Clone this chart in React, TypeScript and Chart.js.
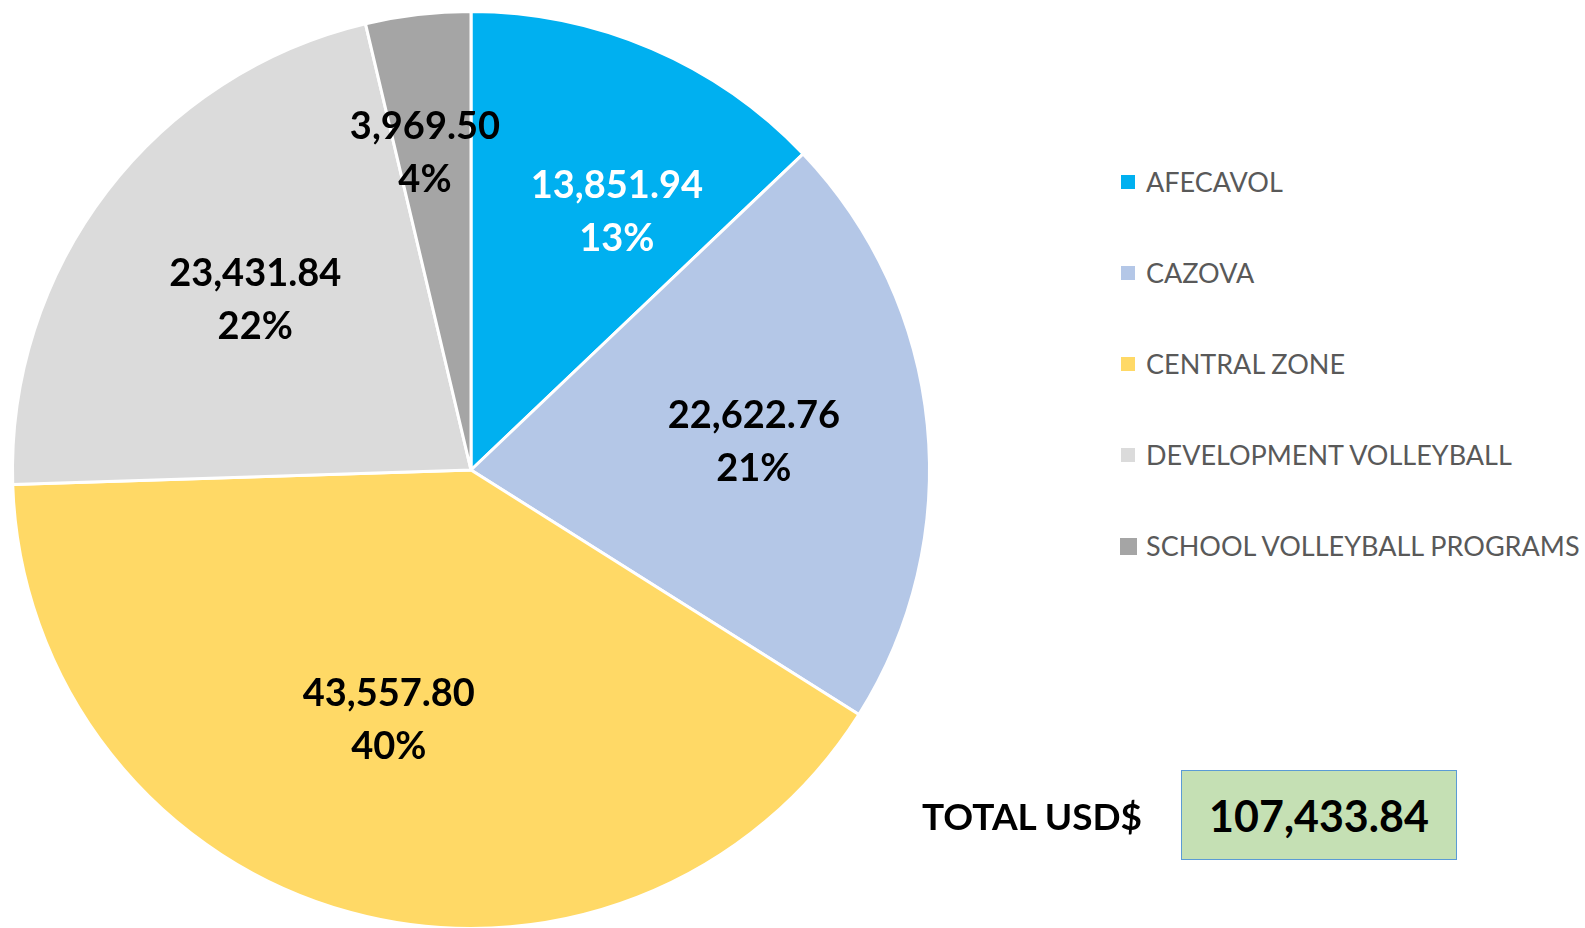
import React, { useEffect, useRef } from "react";
import { Chart, registerables } from "chart.js";

Chart.register(...registerables);

const CATEGORIES = ["AFECAVOL", "CAZOVA", "CENTRAL ZONE", "DEVELOPMENT VOLLEYBALL", "SCHOOL VOLLEYBALL PROGRAMS"];
const VALUES = [13851.94, 22622.76, 43557.8, 23431.84, 3969.5];
const PERCENT_LABELS = ["13%", "21%", "40%", "22%", "4%"];
const COLORS = ["#00B0F0", "#B4C7E7", "#FFD966", "#DBDBDB", "#A5A5A5"];
const LABEL_COLORS = ["#FFFFFF", "#000000", "#000000", "#000000", "#000000"];
const TOTAL_TEXT = "TOTAL USD$";
const TOTAL_VALUE = "107,433.84";

// label placement style (radius fraction, angle shift in degrees)
const LABEL_RADIUS = [0.646, 0.62, 0.574, 0.6, 0.7];
const LABEL_ANGLE_SHIFT = [6.3, 0, 3, 0.9, -1.6];

const FONT = "Lato, 'Open Sans', sans-serif";

const fmt = (v: number) =>
  v.toLocaleString("en-US", { minimumFractionDigits: 2, maximumFractionDigits: 2 });

const labelPlugin = {
  id: "sliceLabels",
  afterDatasetsDraw(chart: any) {
    const ctx = chart.ctx;
    const meta = chart.getDatasetMeta(0);
    ctx.save();
    ctx.font = `bold 38px ${FONT}`;
    ctx.textAlign = "center";
    ctx.textBaseline = "middle";
    meta.data.forEach((arc: any, i: number) => {
      const mid = (arc.startAngle + arc.endAngle) / 2 + (LABEL_ANGLE_SHIFT[i] * Math.PI) / 180;
      const r = arc.outerRadius * LABEL_RADIUS[i];
      const x = arc.x + Math.cos(mid) * r;
      const y = arc.y + Math.sin(mid) * r;
      ctx.fillStyle = LABEL_COLORS[i];
      ctx.fillText(fmt(VALUES[i]), x, y - 26);
      ctx.fillText(PERCENT_LABELS[i], x, y + 27);
    });
    ctx.restore();
  },
};

export default function App() {
  const ref = useRef<HTMLCanvasElement>(null);
  useEffect(() => {
    if (!ref.current) return;
    const chart = new Chart(ref.current, {
      type: "pie",
      data: {
        labels: CATEGORIES,
        datasets: [
          {
            data: VALUES,
            backgroundColor: COLORS,
            borderColor: "#FFFFFF",
            borderWidth: 3,
          },
        ],
      },
      options: {
        responsive: false,
        animation: false,
        layout: { padding: { top: 10, bottom: 0, left: 11, right: 11 } },
        plugins: {
          legend: { display: false },
          tooltip: { enabled: false },
        },
      },
      plugins: [labelPlugin],
    });
    return () => chart.destroy();
  }, []);

  return (
    <div style={{ position: "fixed", left: 0, top: 0, width: 1585, height: 928, background: "#fff", overflow: "hidden", fontFamily: FONT }}>
      <canvas ref={ref} width={942} height={930} style={{ position: "absolute", left: 0, top: 0 }} />
      {CATEGORIES.map((c, i) => {
        const size = i === 4 ? 17 : 14;
        const cy = 181.5 + i * 91.2;
        return (
          <div key={c}>
            <div
              style={{
                position: "absolute",
                left: 1128 - size / 2,
                top: cy - size / 2,
                width: size,
                height: size,
                background: COLORS[i],
              }}
            />
            <div
              style={{
                position: "absolute",
                left: 1146,
                top: cy - 20,
                height: 40,
                lineHeight: "40px",
                fontSize: 27,
                color: "#595959",
                whiteSpace: "nowrap",
              }}
            >
              {c}
            </div>
          </div>
        );
      })}
      <div
        style={{
          position: "absolute",
          left: 922,
          top: 790,
          height: 52,
          lineHeight: "52px",
          fontSize: 37,
          fontWeight: "bold",
          color: "#000",
          whiteSpace: "nowrap",
        }}
      >
        {TOTAL_TEXT}
      </div>
      <div
        style={{
          position: "absolute",
          left: 1181,
          top: 770,
          width: 274,
          height: 88,
          background: "#C5E0B4",
          border: "1.5px solid #5B9BD5",
          display: "flex",
          alignItems: "center",
          justifyContent: "center",
          fontSize: 43,
          fontWeight: "bold",
          color: "#000",
          whiteSpace: "nowrap",
        }}
      >
        {TOTAL_VALUE}
      </div>
    </div>
  );
}
